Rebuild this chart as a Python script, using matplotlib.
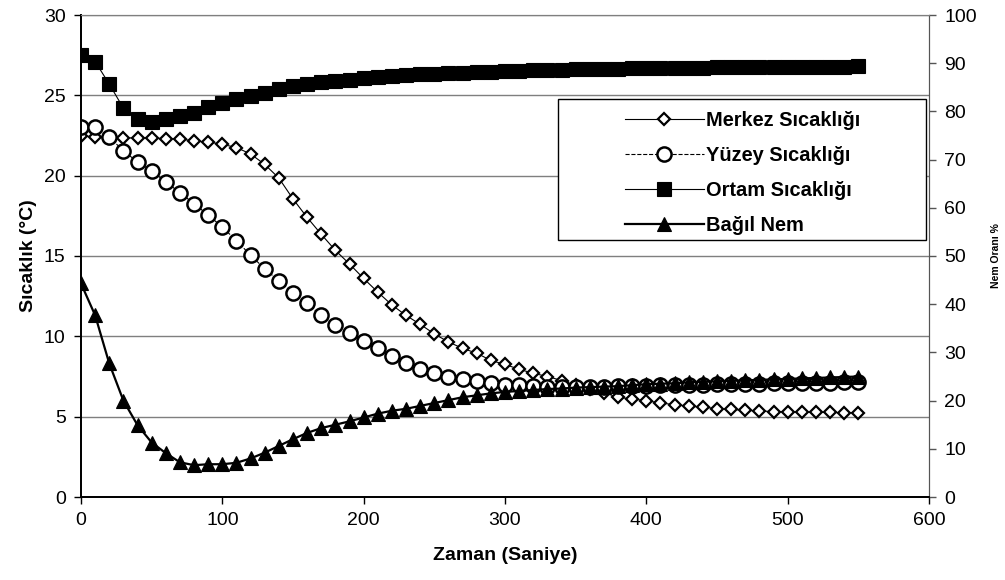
import matplotlib
matplotlib.use('Agg')
import matplotlib.pyplot as plt
from matplotlib.patches import Rectangle

plt.rcParams['font.family'] = ['Liberation Sans', 'DejaVu Sans']

# zaman ekseni: 0-550 s, 10 s aralik
zaman = list(range(0, 560, 10))

merkez = [22.5, 22.4, 22.35, 22.35, 22.35, 22.35, 22.3, 22.3, 22.15, 22.1,
          21.95, 21.75, 21.35, 20.7, 19.85, 18.55, 17.4, 16.35, 15.35, 14.5,
          13.6, 12.75, 11.95, 11.3, 10.75, 10.15, 9.65, 9.25, 8.95, 8.5,
          8.25, 7.95, 7.7, 7.5, 7.25, 6.95, 6.7, 6.5, 6.2, 6.1,
          6.0, 5.85, 5.75, 5.65, 5.6, 5.5, 5.45, 5.4, 5.35, 5.32,
          5.3, 5.28, 5.27, 5.26, 5.25, 5.25]

yuzey = [23.0, 23.0, 22.4, 21.55, 20.85, 20.3, 19.6, 18.95, 18.25, 17.55,
         16.8, 15.95, 15.05, 14.2, 13.45, 12.7, 12.05, 11.3, 10.7, 10.2,
         9.7, 9.25, 8.8, 8.35, 7.95, 7.7, 7.5, 7.35, 7.22, 7.1,
         7.0, 6.95, 6.9, 6.87, 6.85, 6.85, 6.85, 6.87, 6.88, 6.9,
         6.93, 6.95, 6.97, 6.99, 7.0, 7.02, 7.03, 7.05, 7.06, 7.08,
         7.09, 7.1, 7.11, 7.12, 7.13, 7.14]

ortam = [27.5, 27.1, 25.7, 24.2, 23.5, 23.35, 23.5, 23.7, 23.9, 24.3,
         24.55, 24.75, 24.95, 25.15, 25.4, 25.55, 25.7, 25.8, 25.9, 25.97,
         26.05, 26.12, 26.18, 26.24, 26.3, 26.34, 26.38, 26.42, 26.45, 26.48,
         26.5, 26.53, 26.55, 26.57, 26.59, 26.61, 26.63, 26.65, 26.66, 26.68,
         26.69, 26.7, 26.71, 26.72, 26.73, 26.74, 26.75, 26.75, 26.76, 26.77,
         26.77, 26.78, 26.78, 26.79, 26.79, 26.8]

# bagil nem (%), sag eksen
nem = [44.3, 37.7, 27.7, 20.0, 14.9, 11.3, 9.1, 7.2, 6.6, 6.8,
       6.8, 7.1, 8.0, 9.2, 10.6, 12.0, 13.3, 14.3, 15.0, 15.7,
       16.5, 17.3, 17.9, 18.3, 18.9, 19.5, 20.1, 20.7, 21.1, 21.5,
       21.8, 22.0, 22.2, 22.4, 22.5, 22.7, 22.8, 22.9, 23.0, 23.2,
       23.4, 23.5, 23.6, 23.8, 23.9, 24.0, 24.1, 24.2, 24.3, 24.4,
       24.5, 24.6, 24.7, 24.8, 24.9, 25.0]

etiketler = ['Merkez Sıcaklığı', 'Yüzey Sıcaklığı', 'Ortam Sıcaklığı', 'Bağıl Nem']

fig = plt.figure(figsize=(10.05, 5.8), dpi=100)
ax = fig.add_axes([81/1005, 1 - 497/580, 848/1005, 482/580])
ax2 = ax.twinx()

l1, = ax.plot(zaman, merkez, '-', color='black', lw=0.8, marker='D', ms=6.3,
              mfc='white', mec='black', mew=1.6)
l2, = ax.plot(zaman, yuzey, '--', color='black', lw=0.8, marker='o', ms=10.2,
              mfc='white', mec='black', mew=1.8)
l3, = ax.plot(zaman, ortam, '-', color='black', lw=0.8, marker='s', ms=9.8,
              mfc='black', mec='black', mew=0.8)
l4, = ax2.plot(zaman, nem, '-', color='black', lw=1.6, marker='^', ms=10.2,
               mfc='black', mec='black', mew=0.8)

ax.set_xlim(0, 600)
ax.set_ylim(0, 30)
ax2.set_ylim(0, 100)
ax.set_xticks(range(0, 700, 100))
ax.set_yticks(range(0, 35, 5))
ax2.set_yticks(range(0, 110, 10))

ax.yaxis.grid(True, color='#7f7f7f', lw=1.0)
ax.set_axisbelow(True)

for a in (ax, ax2):
    a.spines['top'].set_color('#7f7f7f')
    a.spines['left'].set_color('black')
    a.spines['bottom'].set_color('black')
    a.spines['right'].set_color('#555555')
    a.spines['left'].set_linewidth(1.3)
    a.spines['bottom'].set_linewidth(1.3)
ax.tick_params(axis='both', direction='out', length=5, width=1, labelsize=14, pad=6)
ax2.tick_params(axis='y', direction='out', length=5, width=1, labelsize=14, pad=6,
                color='#555555')

ax.set_xlabel('Zaman (Saniye)', fontsize=14, fontweight='bold', labelpad=13)
ax.set_ylabel('Sıcaklık (°C)', fontsize=14, fontweight='bold', labelpad=5)
ax2.set_ylabel('Nem Oranı %', fontsize=7.5, fontweight='bold', labelpad=10)

# gosterge kutusu
kutu = Rectangle((0.5625, 0.533), 0.434, 0.2927, transform=ax2.transAxes,
                 facecolor='white', edgecolor='black', lw=1.0, zorder=4)
ax2.add_patch(kutu)
leg = ax2.legend([l1, l2, l3, l4], etiketler, loc='upper left',
                 bbox_to_anchor=(0.6297, 0.8215), frameon=False, borderpad=0,
                 handlelength=3.95, handletextpad=0.1, labelspacing=0.795,
                 prop={'size': 14.4, 'weight': 'bold'})
leg.set_zorder(5)

fig.savefig('out.png', dpi=100)
